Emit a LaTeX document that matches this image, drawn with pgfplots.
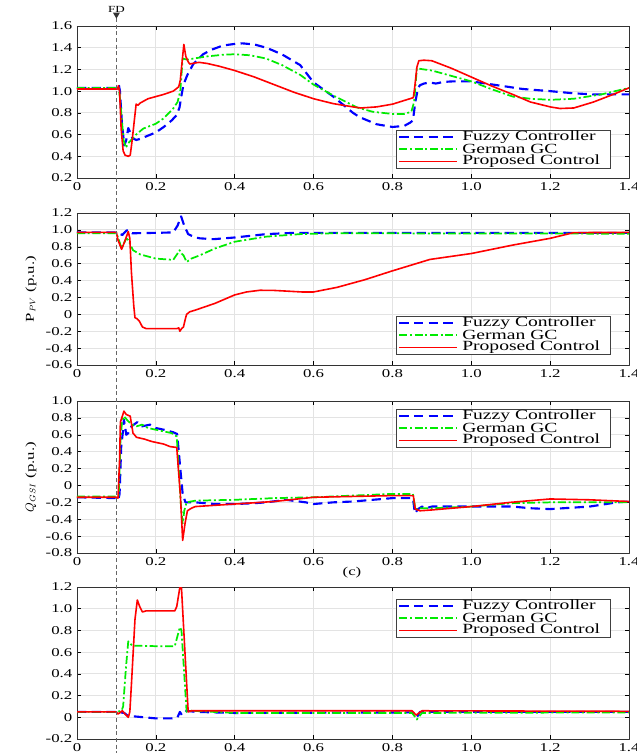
\documentclass[border=0pt]{standalone}
\usepackage{fontspec}
\setmainfont{Liberation Serif}[FakeStretch=1.4]
\usepackage{pgfplots}
\pgfplotsset{compat=1.18}
\definecolor{fzb}{RGB}{0,0,255}
\definecolor{ggc}{RGB}{0,235,0}
\definecolor{prc}{RGB}{255,0,0}
\tikzset{
  fzline/.style={draw=fzb, line width=1.6pt, dash pattern=on 7pt off 4pt},
  geline/.style={draw=ggc, line width=1.3pt, dash pattern=on 6pt off 2pt on 1.5pt off 2pt},
  prline/.style={draw=prc, line width=1.2pt, solid},
}
% legend box: #1 = top edge below the picture's top, in pt
\newcommand{\mylegend}[1]{%
  \draw[black!75, line width=0.5pt, fill=white] (297pt,{-(#1)*1pt}) rectangle (457.5pt,{-(#1+28.5)*1pt});
  \draw[fzline] (299.5pt,{-(#1+5)*1pt}) -- (343pt,{-(#1+5)*1pt});
  \draw[geline] (299.5pt,{-(#1+14.25)*1pt}) -- (343pt,{-(#1+14.25)*1pt});
  \draw[prline] (299.5pt,{-(#1+23.5)*1pt}) -- (343pt,{-(#1+23.5)*1pt});
  \begin{scope}[every node/.style={anchor=west, inner sep=0pt, text=black, font=\fontsize{10.5}{10.5}\selectfont}]
  \node at (346.5pt,{-(#1+5)*1pt}) {Fuzzy Controller};
  \node at (346.5pt,{-(#1+14.25)*1pt}) {German GC};
  \node at (346.5pt,{-(#1+23.5)*1pt}) {Proposed Control};
  \end{scope}
}
\begin{document}
\begin{tikzpicture}
\pgfplotsset{
  panel/.style={
    scale only axis, width=414pt, height=114pt, anchor=north west,
    xmin=0, xmax=1.4,
    xtick={0,0.2,0.4,0.6,0.8,1.0,1.2,1.4},
    xticklabels={0,0.2,0.4,0.6,0.8,1.0,1.2,1.4},
    grid=major, major grid style={gray!22, line width=0.7pt},
    tick align=inside, major tick length=3pt,
    tick style={black, line width=0.4pt},
    axis line style={black!80, line width=0.6pt},
    ticklabel style={font=\fontsize{9}{9}\selectfont},
    label style={font=\fontsize{9}{9}\selectfont},
    no markers, line join=round,
  },
}
% ---------------- panel 1
\begin{axis}[panel, at={(57.75pt,-19.5pt)},
  ymin=0.2, ymax=1.6,
  ytick={0.2,0.4,0.6,0.8,1.0,1.2,1.4,1.6},
  yticklabels={0.2,0.4,0.6,0.8,1.0,1.2,1.4,1.6}]
\addplot[fzline] coordinates {(0,1.03)(0.1,1.03)(0.103,1.04)(0.106,1.06)(0.109,1.0)(0.114,0.7)(0.12,0.5)(0.125,0.55)(0.13,0.66)(0.135,0.62)(0.14,0.57)(0.15,0.55)(0.16,0.56)(0.18,0.59)(0.2,0.62)(0.22,0.67)(0.24,0.73)(0.253,0.78)(0.26,0.85)(0.265,0.96)(0.27,1.06)(0.28,1.15)(0.295,1.25)(0.32,1.34)(0.34,1.38)(0.37,1.42)(0.4,1.435)(0.42,1.44)(0.45,1.43)(0.48,1.40)(0.5,1.37)(0.524,1.33)(0.566,1.24)(0.6,1.08)(0.65,0.95)(0.7,0.8)(0.717,0.76)(0.76,0.695)(0.8,0.67)(0.83,0.68)(0.845,0.71)(0.852,0.73)(0.858,0.9)(0.865,1.03)(0.87,1.055)(0.88,1.07)(0.895,1.08)(0.91,1.07)(0.93,1.085)(0.953,1.09)(1.0,1.09)(1.065,1.055)(1.13,1.02)(1.2,1.0)(1.26,0.98)(1.31,0.97)(1.4,0.97)};
\addplot[geline] coordinates {(0,1.03)(0.1,1.03)(0.106,1.03)(0.11,0.9)(0.118,0.55)(0.124,0.48)(0.13,0.52)(0.14,0.56)(0.15,0.6)(0.168,0.655)(0.2,0.70)(0.22,0.75)(0.244,0.84)(0.255,0.9)(0.262,1.0)(0.268,1.3)(0.28,1.29)(0.295,1.30)(0.33,1.32)(0.37,1.335)(0.4,1.34)(0.44,1.33)(0.48,1.30)(0.52,1.24)(0.566,1.15)(0.6,1.06)(0.65,0.96)(0.71,0.85)(0.75,0.81)(0.8,0.79)(0.83,0.79)(0.848,0.81)(0.855,0.9)(0.862,1.21)(0.88,1.2)(0.9,1.19)(0.95,1.14)(1.0,1.09)(1.05,1.02)(1.105,0.95)(1.15,0.93)(1.2,0.92)(1.26,0.93)(1.33,0.97)(1.4,1.03)};
\addplot[prline] coordinates {(0,1.02)(0.1,1.02)(0.103,1.02)(0.105,1.05)(0.108,1.0)(0.112,0.65)(0.117,0.45)(0.122,0.41)(0.13,0.40)(0.135,0.41)(0.14,0.55)(0.146,0.75)(0.15,0.88)(0.155,0.87)(0.16,0.89)(0.17,0.91)(0.18,0.93)(0.19,0.94)(0.2,0.95)(0.22,0.97)(0.244,1.0)(0.258,1.04)(0.262,1.1)(0.266,1.25)(0.271,1.43)(0.276,1.32)(0.282,1.27)(0.286,1.25)(0.3,1.26)(0.31,1.265)(0.33,1.255)(0.36,1.23)(0.4,1.19)(0.45,1.13)(0.5,1.06)(0.55,0.99)(0.6,0.93)(0.65,0.885)(0.7,0.855)(0.72,0.845)(0.76,0.855)(0.8,0.88)(0.853,0.94)(0.857,1.05)(0.862,1.22)(0.867,1.28)(0.88,1.285)(0.9,1.28)(0.95,1.21)(1.0,1.13)(1.05,1.05)(1.105,0.97)(1.15,0.9)(1.2,0.855)(1.225,0.84)(1.26,0.845)(1.31,0.9)(1.36,0.97)(1.4,1.03)};
\coordinate (fd) at (axis cs:0.1,1.6);
\end{axis}
% ---------------- panel 2
\begin{axis}[panel, at={(57.75pt,-159.75pt)},
  ymin=-0.6, ymax=1.2,
  ytick={-0.6,-0.4,-0.2,0,0.2,0.4,0.6,0.8,1.0,1.2},
  yticklabels={-0.6,-0.4,-0.2,0,0.2,0.4,0.6,0.8,1.0,1.2},
  ylabel={P$_{PV}$ (p.u.)}]
\addplot[fzline] coordinates {(0,0.97)(0.1,0.97)(0.105,0.96)(0.115,0.94)(0.125,0.99)(0.13,1.0)(0.14,0.96)(0.2,0.965)(0.244,0.97)(0.255,1.05)(0.264,1.16)(0.272,1.05)(0.282,0.95)(0.3,0.91)(0.312,0.90)(0.346,0.89)(0.4,0.91)(0.48,0.95)(0.55,0.965)(0.7,0.965)(1.4,0.965)};
\addplot[geline] coordinates {(0,0.96)(0.1,0.96)(0.105,0.9)(0.113,0.78)(0.125,0.9)(0.13,0.88)(0.142,0.76)(0.16,0.71)(0.2,0.66)(0.244,0.645)(0.255,0.72)(0.26,0.76)(0.265,0.72)(0.27,0.7)(0.278,0.62)(0.29,0.66)(0.312,0.70)(0.35,0.78)(0.4,0.86)(0.48,0.92)(0.566,0.95)(0.65,0.96)(1.4,0.955)};
\addplot[prline] coordinates {(0,0.97)(0.1,0.97)(0.104,0.88)(0.113,0.77)(0.12,0.85)(0.13,0.98)(0.134,0.9)(0.138,0.5)(0.144,0.1)(0.147,-0.04)(0.152,-0.05)(0.158,-0.08)(0.166,-0.15)(0.176,-0.17)(0.2,-0.17)(0.253,-0.17)(0.258,-0.16)(0.261,-0.2)(0.265,-0.17)(0.27,-0.15)(0.275,-0.05)(0.278,0.0)(0.286,0.03)(0.3,0.05)(0.35,0.13)(0.4,0.23)(0.43,0.265)(0.464,0.285)(0.5,0.283)(0.532,0.275)(0.57,0.265)(0.6,0.265)(0.66,0.32)(0.73,0.41)(0.8,0.515)(0.895,0.65)(1.0,0.72)(1.105,0.82)(1.2,0.90)(1.26,0.968)(1.4,0.97)};
\end{axis}
% ---------------- panel 3
\begin{axis}[panel, at={(57.75pt,-300.75pt)},
  ymin=-0.8, ymax=1.0,
  ytick={-0.8,-0.6,-0.4,-0.2,0,0.2,0.4,0.6,0.8,1.0},
  yticklabels={-0.8,-0.6,-0.4,-0.2,0,0.2,0.4,0.6,0.8,1.0},
  ylabel={$Q_{GSI}$ (p.u.)}]
\addplot[fzline] coordinates {(0,-0.14)(0.1,-0.15)(0.105,-0.17)(0.108,-0.1)(0.112,0.45)(0.116,0.62)(0.119,0.78)(0.125,0.6)(0.13,0.62)(0.138,0.70)(0.153,0.75)(0.165,0.70)(0.185,0.72)(0.2,0.68)(0.22,0.66)(0.244,0.63)(0.254,0.61)(0.262,0.2)(0.268,-0.1)(0.275,-0.2)(0.3,-0.2)(0.35,-0.22)(0.4,-0.22)(0.45,-0.21)(0.48,-0.2)(0.53,-0.17)(0.58,-0.2)(0.6,-0.22)(0.65,-0.2)(0.7,-0.19)(0.8,-0.15)(0.852,-0.15)(0.857,-0.33)(0.865,-0.28)(0.875,-0.25)(0.885,-0.27)(0.9,-0.25)(1.0,-0.25)(1.105,-0.25)(1.15,-0.27)(1.2,-0.28)(1.3,-0.25)(1.37,-0.2)(1.4,-0.19)};
\addplot[geline] coordinates {(0,-0.13)(0.1,-0.13)(0.106,-0.12)(0.11,0.5)(0.114,0.75)(0.119,0.82)(0.13,0.76)(0.14,0.72)(0.151,0.70)(0.165,0.72)(0.18,0.68)(0.2,0.66)(0.24,0.62)(0.253,0.58)(0.258,0.2)(0.263,-0.2)(0.268,-0.45)(0.272,-0.3)(0.278,-0.2)(0.3,-0.18)(0.4,-0.17)(0.5,-0.15)(0.6,-0.14)(0.7,-0.12)(0.8,-0.1)(0.852,-0.1)(0.858,-0.28)(0.87,-0.27)(0.9,-0.27)(1.0,-0.25)(1.1,-0.21)(1.2,-0.2)(1.3,-0.2)(1.4,-0.2)};
\addplot[prline] coordinates {(0,-0.14)(0.1,-0.14)(0.104,-0.15)(0.108,0.3)(0.11,0.75)(0.115,0.82)(0.119,0.88)(0.125,0.84)(0.13,0.83)(0.135,0.82)(0.142,0.62)(0.151,0.57)(0.17,0.55)(0.19,0.52)(0.22,0.49)(0.236,0.46)(0.253,0.45)(0.257,0.2)(0.262,-0.1)(0.268,-0.65)(0.274,-0.45)(0.28,-0.3)(0.29,-0.27)(0.3,-0.25)(0.4,-0.22)(0.5,-0.19)(0.6,-0.14)(0.7,-0.13)(0.8,-0.12)(0.853,-0.12)(0.858,-0.28)(0.87,-0.3)(0.9,-0.29)(1.0,-0.25)(1.1,-0.2)(1.2,-0.16)(1.3,-0.17)(1.4,-0.19)};
\end{axis}
\node[font=\fontsize{9}{9}\selectfont] at (264pt,-429.75pt) {(c)};
% ---------------- panel 4
\begin{axis}[panel, at={(57.75pt,-440.25pt)},
  ymin=-0.2, ymax=1.2,
  ytick={-0.2,0,0.2,0.4,0.6,0.8,1.0,1.2},
  yticklabels={-0.2,0,0.2,0.4,0.6,0.8,1.0,1.2}]
\addplot[fzline] coordinates {(0,0.05)(0.1,0.05)(0.12,0.04)(0.13,0.01)(0.134,0.0)(0.14,0.01)(0.2,-0.01)(0.24,-0.01)(0.255,0.0)(0.261,0.05)(0.266,0.02)(0.278,0.06)(0.3,0.05)(0.4,0.04)(0.85,0.045)(0.856,0.03)(0.862,0.0)(0.87,0.05)(1.4,0.05)};
\addplot[geline] coordinates {(0,0.05)(0.1,0.05)(0.113,0.06)(0.117,0.1)(0.124,0.45)(0.13,0.7)(0.14,0.66)(0.2,0.655)(0.248,0.655)(0.255,0.75)(0.261,0.83)(0.265,0.8)(0.278,0.05)(0.29,0.06)(0.4,0.04)(0.85,0.04)(0.862,-0.02)(0.875,0.04)(1.4,0.045)};
\addplot[prline] coordinates {(0,0.05)(0.1,0.05)(0.104,0.03)(0.108,0.04)(0.115,0.06)(0.122,0.03)(0.13,0.0)(0.134,0.05)(0.138,0.3)(0.147,0.9)(0.153,1.08)(0.159,1.02)(0.166,0.97)(0.175,0.98)(0.248,0.98)(0.253,1.02)(0.261,1.2)(0.265,1.19)(0.282,0.05)(0.29,0.06)(0.85,0.06)(0.86,0.02)(0.875,0.06)(1.4,0.055)};
\end{axis}
% ---------------- legends
\mylegend{97.5}
\mylegend{237}
\mylegend{306.75}
\mylegend{449.25}
% ---------------- fault marker
\draw[black!60, line width=0.6pt, dash pattern=on 3pt off 2pt] ([yshift=6pt]fd) -- (fd |- 0,-564.75pt);
\fill[black!80, shift={(fd)}] (-2.6pt,10pt) -- (2.6pt,10pt) -- (0,5.5pt) -- cycle;
\node[font=\fontsize{7}{7}\selectfont, inner sep=0pt] at ([yshift=12.5pt]fd) {FD};
\pgfresetboundingbox
\path[use as bounding box] (0,0) rectangle (477pt,-564.75pt);
\end{tikzpicture}
\end{document}
